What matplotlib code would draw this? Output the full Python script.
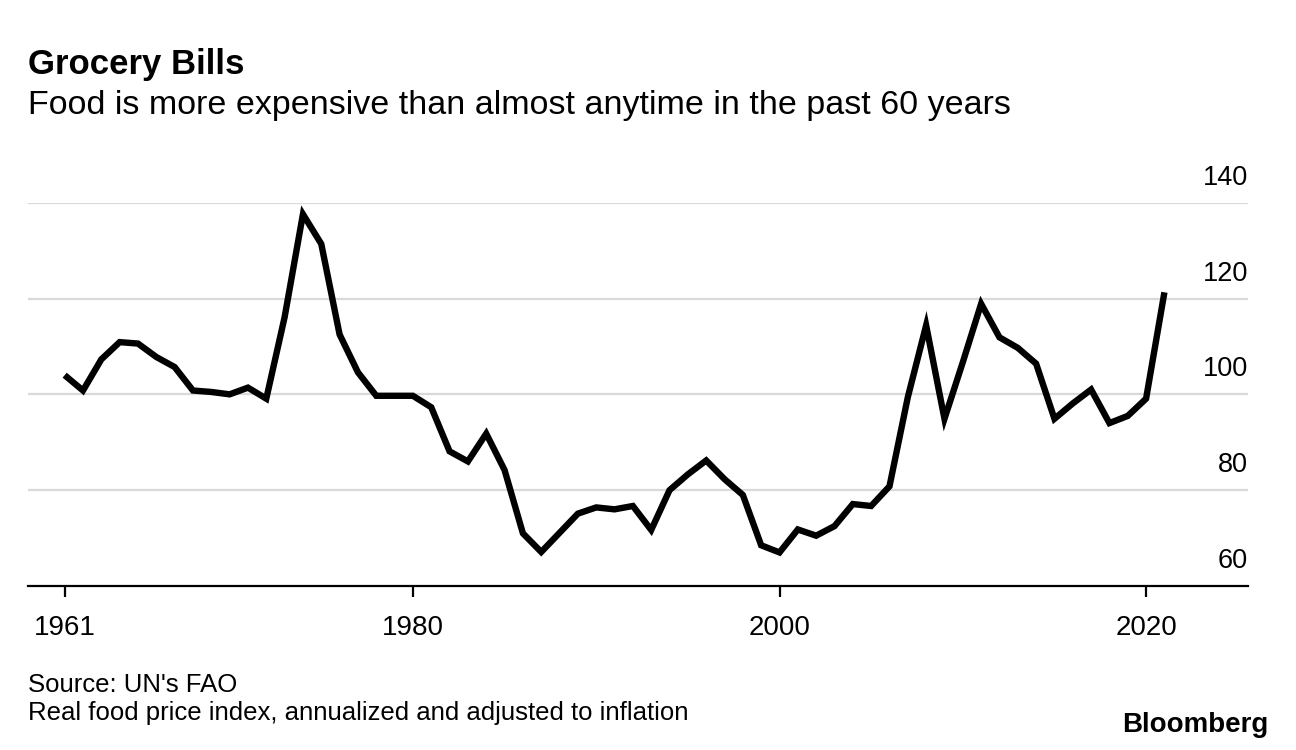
import numpy as np
import matplotlib
matplotlib.use("Agg")
import matplotlib.pyplot as plt

plt.rcParams["font.family"] = ["Liberation Sans", "DejaVu Sans"]

# real food price index
years = list(range(1961, 2022))
index = [
    104.0, 100.8, 107.3, 110.9, 110.6, 107.8, 105.7, 100.8, 100.5, 100.0,  # 1961-1970
    101.4, 99.1, 116.1, 137.6, 131.4, 112.5, 104.6, 99.7, 99.7, 99.7,  # 1971-1980
    97.3, 88.1, 86.0, 91.8, 84.2, 71.0, 67.1, 71.1, 75.1, 76.4,  # 1981-1990
    76.0, 76.7, 71.7, 80.0, 83.3, 86.2, 82.3, 79.0, 68.5, 67.0,  # 1991-2000
    71.8, 70.5, 72.5, 77.1, 76.7, 80.8, 99.4, 114.4, 94.9, 106.7,  # 2001-2010
    118.9, 111.9, 109.7, 106.4, 94.9, 98.1, 101.0, 94.0, 95.5, 99.1,  # 2011-2020
    121.3,  # 2021
]
xticks = [1961, 1980, 2000, 2020]
yticks = [60, 80, 100, 120, 140]

fig = plt.figure(figsize=(12.96, 7.5), dpi=100)
ax = fig.add_axes([28 / 1296, 164 / 750, 1220 / 1296, 383.3 / 750])

for v in yticks[1:]:
    ax.axhline(v, color="#d9d9d9", lw=1.6, zorder=1)

ax.plot(years, index, color="black", lw=4.6, solid_joinstyle="miter",
        solid_capstyle="butt", zorder=3)

ax.set_xlim(1959.0, 2025.56)
ax.set_ylim(60, 140)

for s in ["top", "left", "right"]:
    ax.spines[s].set_visible(False)
ax.spines["bottom"].set_linewidth(1.6)
ax.spines["bottom"].set_zorder(4)

ax.set_xticks(xticks)
ax.set_xticklabels([str(y) for y in xticks])
ax.tick_params(axis="x", length=8, width=1.6, pad=13, labelsize=20)
ax.set_yticks([])

# y labels sit above their gridlines, right aligned
for v in yticks:
    ax.annotate(str(v), xy=(1, v), xycoords=("axes fraction", "data"),
                xytext=(0, 18), textcoords="offset pixels",
                ha="right", va="baseline", fontsize=19.5, annotation_clip=False)

fig.text(28 / 1296, 1 - 74 / 750, "Grocery Bills", fontsize=25,
         fontweight="bold", va="baseline")
fig.text(28 / 1296, 1 - 114 / 750,
         "Food is more expensive than almost anytime in the past 60 years",
         fontsize=24.5, va="baseline")
fig.text(28 / 1296, 1 - 692 / 750, "Source: UN's FAO", fontsize=18.5, va="baseline")
fig.text(28 / 1296, 1 - 720 / 750,
         "Real food price index, annualized and adjusted to inflation",
         fontsize=18.5, va="baseline")
fig.text(1268 / 1296, 1 - 732.5 / 750, "Bloomberg", fontsize=20,
         fontweight="bold", ha="right", va="baseline")

fig.savefig("out.png", dpi=100)
